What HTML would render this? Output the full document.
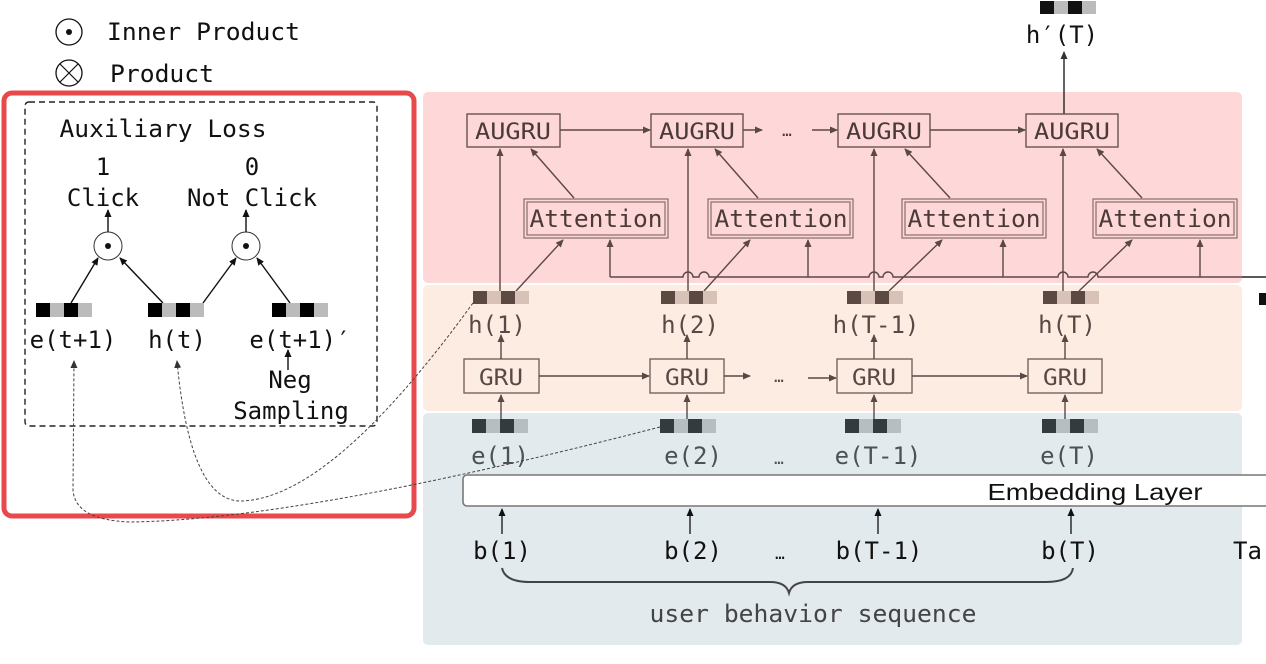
<!DOCTYPE html>
<html><head><meta charset="utf-8"><style>
html,body{margin:0;padding:0;background:#fff;}
svg{display:block;}
text{font-family:"DejaVu Sans Mono","Liberation Mono",monospace;}
</style></head><body>
<svg width="1266" height="664" viewBox="0 0 1266 664" xmlns="http://www.w3.org/2000/svg">
<defs>
<marker id="ab" markerWidth="8" markerHeight="8" refX="7" refY="4" orient="auto" markerUnits="userSpaceOnUse"><path d="M0,0.5 L8,4 L0,7.5 z" fill="#5a4846"/></marker>
<marker id="ak" markerWidth="8" markerHeight="8" refX="7" refY="4" orient="auto" markerUnits="userSpaceOnUse"><path d="M0,0.5 L8,4 L0,7.5 z" fill="#111"/></marker>
<marker id="ag" markerWidth="8" markerHeight="8" refX="7" refY="4" orient="auto" markerUnits="userSpaceOnUse"><path d="M0,0.5 L8,4 L0,7.5 z" fill="#333"/></marker>
</defs>
<rect x="423" y="92" width="819" height="191" rx="5" fill="#fed7d9"/>
<rect x="423" y="285" width="819" height="126" rx="5" fill="#fdece1"/>
<rect x="423" y="413" width="819" height="232" rx="5" fill="#e2eaed"/>

<circle cx="69" cy="32" r="13" fill="none" stroke="#111" stroke-width="1.3"/><circle cx="69" cy="32" r="3" fill="#111"/>
<text x="107" y="40" font-size="24" fill="#111" textLength="193" lengthAdjust="spacingAndGlyphs">Inner Product</text>
<circle cx="69" cy="73" r="13" fill="none" stroke="#111" stroke-width="1.3"/>
<path d="M60,64 L78,82 M78,64 L60,82" stroke="#111" stroke-width="1.2"/>
<text x="110" y="82" font-size="24" fill="#111" textLength="104" lengthAdjust="spacingAndGlyphs">Product</text>

<rect x="1040" y="1" width="14" height="13" fill="#111"/><rect x="1054" y="1" width="14" height="13" fill="#bbb"/><rect x="1068" y="1" width="14" height="13" fill="#111"/><rect x="1082" y="1" width="14" height="13" fill="#bbb"/>
<text x="1062" y="43" font-size="24" text-anchor="middle" fill="#111">h′(T)</text>
<line x1="1064" y1="114" x2="1064" y2="52" stroke="#222" stroke-width="1.4" marker-end="url(#ag)"/>

<g fill="none" stroke="#6a5250" stroke-width="1.4">
<rect x="467" y="114" width="93" height="33"/><rect x="651" y="114" width="92" height="33"/>
<rect x="838" y="114" width="92" height="33"/><rect x="1026" y="114" width="92" height="33"/>
</g>
<g font-size="22" fill="#4a3a38" text-anchor="middle">
<text x="513" y="139" textLength="76" lengthAdjust="spacingAndGlyphs">AUGRU</text>
<text x="697" y="139" textLength="76" lengthAdjust="spacingAndGlyphs">AUGRU</text>
<text x="884" y="139" textLength="76" lengthAdjust="spacingAndGlyphs">AUGRU</text>
<text x="1072" y="139" textLength="76" lengthAdjust="spacingAndGlyphs">AUGRU</text>
</g>
<g stroke="#5a4846" stroke-width="1.4" fill="none">
<line x1="560" y1="130" x2="650" y2="130" marker-end="url(#ab)"/>
<line x1="743" y1="130" x2="762" y2="130" marker-end="url(#ab)"/>
<line x1="812" y1="130" x2="837" y2="130" marker-end="url(#ab)"/>
<line x1="930" y1="130" x2="1025" y2="130" marker-end="url(#ab)"/>
</g>
<text x="787" y="136" font-size="16" fill="#4a3a38" text-anchor="middle">…</text>

<g fill="none" stroke="#8a6e6c" stroke-width="1.2">
<rect x="524" y="199" width="144" height="39"/><rect x="527" y="202" width="138" height="33"/>
<rect x="708" y="199" width="145" height="39"/><rect x="711" y="202" width="139" height="33"/>
<rect x="902" y="199" width="144" height="39"/><rect x="905" y="202" width="138" height="33"/>
<rect x="1093" y="199" width="144" height="39"/><rect x="1096" y="202" width="138" height="33"/>
</g>
<g font-size="24" fill="#4a3a38" text-anchor="middle">
<text x="596" y="227" textLength="133" lengthAdjust="spacingAndGlyphs">Attention</text><text x="781" y="227" textLength="133" lengthAdjust="spacingAndGlyphs">Attention</text>
<text x="974" y="227" textLength="133" lengthAdjust="spacingAndGlyphs">Attention</text><text x="1165" y="227" textLength="133" lengthAdjust="spacingAndGlyphs">Attention</text>
</g>

<g stroke="#5a4846" stroke-width="1.4" fill="none">
<line x1="574" y1="198" x2="531" y2="149" marker-end="url(#ab)"/>
<line x1="758" y1="198" x2="715" y2="149" marker-end="url(#ab)"/>
<line x1="950" y1="198" x2="905" y2="149" marker-end="url(#ab)"/>
<line x1="1142" y1="198" x2="1097" y2="149" marker-end="url(#ab)"/>
<line x1="500" y1="291" x2="500" y2="149" marker-end="url(#ab)"/>
<line x1="688" y1="291" x2="688" y2="149" marker-end="url(#ab)"/>
<line x1="874" y1="291" x2="874" y2="149" marker-end="url(#ab)"/>
<line x1="1063" y1="291" x2="1063" y2="149" marker-end="url(#ab)"/>
<line x1="516" y1="291" x2="563" y2="240" marker-end="url(#ab)"/>
<line x1="704" y1="291" x2="750" y2="240" marker-end="url(#ab)"/>
<line x1="889" y1="291" x2="942" y2="240" marker-end="url(#ab)"/>
<line x1="1079" y1="291" x2="1132" y2="240" marker-end="url(#ab)"/>
<path d="M610,277 L683,277 a5,5 0 0 1 10,0 L699,277 a5,5 0 0 1 10,0 L869,277 a5,5 0 0 1 10,0 L883,277 a5,5 0 0 1 10,0 L1058,277 a5,5 0 0 1 10,0 L1088,277 a5,5 0 0 1 10,0 L1242,277"/>
<line x1="610" y1="277" x2="610" y2="240" marker-end="url(#ab)"/>
<line x1="808" y1="277" x2="808" y2="240" marker-end="url(#ab)"/>
<line x1="1003" y1="277" x2="1003" y2="240" marker-end="url(#ab)"/>
<line x1="1200" y1="277" x2="1200" y2="240" marker-end="url(#ab)"/>
</g>
<line x1="1242" y1="277" x2="1266" y2="277" stroke="#222" stroke-width="1.4"/>
<rect x="1259" y="293" width="7" height="12" fill="#111"/>

<g>
<rect x="473" y="291" width="14" height="13" fill="#5c4a42"/><rect x="487" y="291" width="14" height="13" fill="#d8c2b8"/><rect x="501" y="291" width="14" height="13" fill="#5c4a42"/><rect x="515" y="291" width="14" height="13" fill="#d8c2b8"/>
<rect x="661" y="291" width="14" height="13" fill="#5c4a42"/><rect x="675" y="291" width="14" height="13" fill="#d8c2b8"/><rect x="689" y="291" width="14" height="13" fill="#5c4a42"/><rect x="703" y="291" width="14" height="13" fill="#d8c2b8"/>
<rect x="847" y="291" width="14" height="13" fill="#5c4a42"/><rect x="861" y="291" width="14" height="13" fill="#d8c2b8"/><rect x="875" y="291" width="14" height="13" fill="#5c4a42"/><rect x="889" y="291" width="14" height="13" fill="#d8c2b8"/>
<rect x="1043" y="291" width="14" height="13" fill="#5c4a42"/><rect x="1057" y="291" width="14" height="13" fill="#d8c2b8"/><rect x="1071" y="291" width="14" height="13" fill="#5c4a42"/><rect x="1085" y="291" width="14" height="13" fill="#d8c2b8"/>
</g>
<g font-size="24" fill="#5a4846" text-anchor="middle">
<text x="497" y="333">h(1)</text><text x="690" y="333">h(2)</text><text x="876" y="333">h(T-1)</text><text x="1067" y="333">h(T)</text>
</g>

<g fill="none" stroke="#7a6260" stroke-width="1.4">
<rect x="464" y="359" width="75" height="34"/><rect x="650" y="359" width="74" height="34"/>
<rect x="837" y="359" width="75" height="34"/><rect x="1028" y="359" width="74" height="34"/>
</g>
<g font-size="22" fill="#5a4846" text-anchor="middle">
<text x="501" y="385" textLength="44" lengthAdjust="spacingAndGlyphs">GRU</text>
<text x="687" y="385" textLength="44" lengthAdjust="spacingAndGlyphs">GRU</text>
<text x="874" y="385" textLength="44" lengthAdjust="spacingAndGlyphs">GRU</text>
<text x="1065" y="385" textLength="44" lengthAdjust="spacingAndGlyphs">GRU</text>
</g>
<g stroke="#5a4846" stroke-width="1.4" fill="none">
<line x1="539" y1="376" x2="649" y2="376" marker-end="url(#ab)"/>
<line x1="724" y1="376" x2="750" y2="376" marker-end="url(#ab)"/>
<line x1="808" y1="378" x2="836" y2="378" marker-end="url(#ab)"/>
<line x1="912" y1="376" x2="1027" y2="376" marker-end="url(#ab)"/>
<line x1="501" y1="359" x2="501" y2="335" marker-end="url(#ab)"/><line x1="687" y1="359" x2="687" y2="335" marker-end="url(#ab)"/>
<line x1="874" y1="359" x2="874" y2="335" marker-end="url(#ab)"/><line x1="1065" y1="359" x2="1065" y2="335" marker-end="url(#ab)"/>
<line x1="501" y1="419" x2="501" y2="395" marker-end="url(#ab)"/><line x1="687" y1="419" x2="687" y2="395" marker-end="url(#ab)"/>
<line x1="874" y1="419" x2="874" y2="395" marker-end="url(#ab)"/><line x1="1065" y1="419" x2="1065" y2="395" marker-end="url(#ab)"/>
</g>
<text x="779" y="382" font-size="16" fill="#5a4846" text-anchor="middle">…</text>

<g>
<rect x="472" y="419" width="14" height="14" fill="#333b3e"/><rect x="486" y="419" width="14" height="14" fill="#b7bec1"/><rect x="500" y="419" width="14" height="14" fill="#333b3e"/><rect x="514" y="419" width="14" height="14" fill="#b7bec1"/>
<rect x="660" y="419" width="14" height="14" fill="#333b3e"/><rect x="674" y="419" width="14" height="14" fill="#b7bec1"/><rect x="688" y="419" width="14" height="14" fill="#333b3e"/><rect x="702" y="419" width="14" height="14" fill="#b7bec1"/>
<rect x="845" y="419" width="14" height="14" fill="#333b3e"/><rect x="859" y="419" width="14" height="14" fill="#b7bec1"/><rect x="873" y="419" width="14" height="14" fill="#333b3e"/><rect x="887" y="419" width="14" height="14" fill="#b7bec1"/>
<rect x="1042" y="419" width="14" height="14" fill="#333b3e"/><rect x="1056" y="419" width="14" height="14" fill="#b7bec1"/><rect x="1070" y="419" width="14" height="14" fill="#333b3e"/><rect x="1084" y="419" width="14" height="14" fill="#b7bec1"/>
</g>
<g font-size="24" fill="#4a5255" text-anchor="middle">
<text x="500" y="464">e(1)</text><text x="693" y="464">e(2)</text><text x="878" y="464">e(T-1)</text><text x="1069" y="464">e(T)</text>
<text x="779" y="464" font-size="16">…</text>
</g>

<rect x="463" y="475" width="810" height="31" rx="4" fill="#fff" stroke="#777" stroke-width="1.6"/>
<text x="1095" y="500" font-size="23" fill="#111" text-anchor="middle" style="font-family:'Liberation Sans',sans-serif" textLength="215" lengthAdjust="spacingAndGlyphs">Embedding Layer</text>

<g stroke="#111" stroke-width="1.3">
<line x1="502" y1="534" x2="502" y2="509" marker-end="url(#ak)"/><line x1="690" y1="534" x2="690" y2="509" marker-end="url(#ak)"/>
<line x1="878" y1="534" x2="878" y2="509" marker-end="url(#ak)"/><line x1="1071" y1="534" x2="1071" y2="509" marker-end="url(#ak)"/>
</g>
<g font-size="24" fill="#111" text-anchor="middle">
<text x="502" y="559">b(1)</text><text x="693" y="559">b(2)</text><text x="879" y="559">b(T-1)</text><text x="1070" y="559">b(T)</text>
<text x="780" y="559" font-size="16">…</text>
</g>
<text x="1233" y="559" font-size="24" fill="#111">Ta</text>
<path d="M502,568 Q505,582 530,582 L770,582 Q786,582 789,593 Q792,582 808,582 L1046,582 Q1071,582 1073,568" fill="none" stroke="#444" stroke-width="2"/>
<text x="813" y="622" font-size="24" fill="#444" text-anchor="middle" textLength="327" lengthAdjust="spacingAndGlyphs">user behavior sequence</text>

<rect x="4" y="93" width="410" height="423" rx="8" fill="none" stroke="#e84a4c" stroke-width="5"/>
<rect x="25" y="102" width="352" height="324" rx="4" fill="none" stroke="#222" stroke-width="1.4" stroke-dasharray="6,4"/>
<g font-size="24" fill="#111" text-anchor="middle">
<text x="163" y="137" textLength="207" lengthAdjust="spacingAndGlyphs">Auxiliary Loss</text>
<text x="103" y="175">1</text><text x="252" y="175">0</text>
<text x="103" y="206">Click</text><text x="252" y="206">Not Click</text>
<text x="73" y="348">e(t+1)</text><text x="177" y="348">h(t)</text><text x="300" y="348">e(t+1)′</text>
<text x="290" y="388">Neg</text><text x="291" y="419">Sampling</text>
</g>
<circle cx="108" cy="246" r="14" fill="#fff" stroke="#333" stroke-width="1"/><circle cx="108" cy="246" r="3" fill="#111"/>
<circle cx="246" cy="246" r="14" fill="#fff" stroke="#333" stroke-width="1"/><circle cx="246" cy="246" r="3" fill="#111"/>
<g stroke="#111" stroke-width="1.4" fill="none">
<line x1="108" y1="232" x2="108" y2="210" marker-end="url(#ak)"/>
<line x1="246" y1="232" x2="246" y2="210" marker-end="url(#ak)"/>
<line x1="71" y1="303" x2="98" y2="258" marker-end="url(#ak)"/>
<line x1="163" y1="303" x2="120" y2="258" marker-end="url(#ak)"/>
<line x1="203" y1="303" x2="236" y2="258" marker-end="url(#ak)"/>
<line x1="290" y1="303" x2="257" y2="258" marker-end="url(#ak)"/>
<line x1="288" y1="370" x2="288" y2="350" marker-end="url(#ak)"/>
</g>
<g>
<rect x="36" y="303" width="14" height="14" fill="#000"/><rect x="50" y="303" width="14" height="14" fill="#bbb"/><rect x="64" y="303" width="14" height="14" fill="#000"/><rect x="78" y="303" width="14" height="14" fill="#bbb"/>
<rect x="148" y="303" width="14" height="14" fill="#000"/><rect x="162" y="303" width="14" height="14" fill="#bbb"/><rect x="176" y="303" width="14" height="14" fill="#000"/><rect x="190" y="303" width="14" height="14" fill="#bbb"/>
<rect x="272" y="303" width="14" height="14" fill="#000"/><rect x="286" y="303" width="14" height="14" fill="#bbb"/><rect x="300" y="303" width="14" height="14" fill="#000"/><rect x="314" y="303" width="14" height="14" fill="#bbb"/>
</g>
<g stroke="#444" stroke-width="1" fill="none" stroke-dasharray="3,2">
<path d="M660,427 Q300,520 130,522 Q75,520 73,490 L74,361" marker-end="url(#ag)"/>
<path d="M473,303 Q330,500 240,501 Q190,500 177,361" marker-end="url(#ag)"/>
</g>
</svg>
</body></html>
